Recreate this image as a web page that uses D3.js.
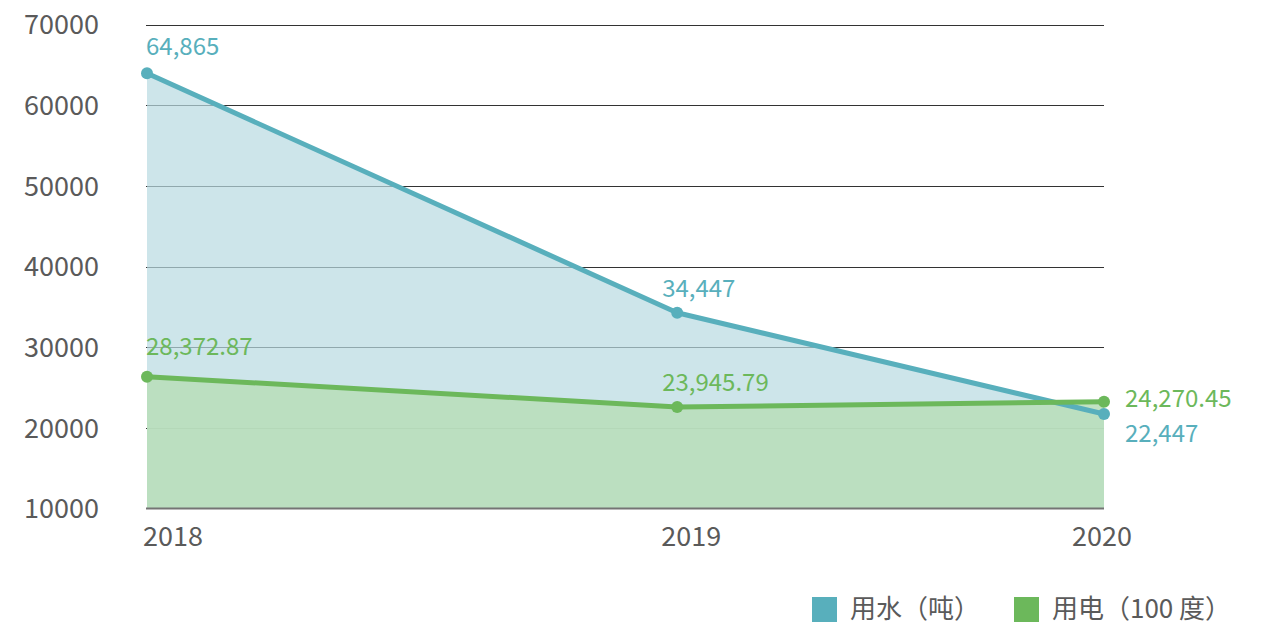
<!DOCTYPE html>
<html>
<head>
<meta charset="utf-8">
<script src="https://cdn.jsdelivr.net/npm/d3@7"></script>
<style>
  body { margin: 0; background: #fff; }
  text { font-family: "Noto Sans CJK SC", "Noto Sans", sans-serif; }
</style>
</head>
<body>
<div id="chart"></div>
<script>
// 数据
const years = [2018, 2019, 2020];
const waterValues = [63950, 34270, 21710];
const powerValues = [26340, 22580, 23240];
const waterLabels = ["64,865", "34,447", "22,447"];
const powerLabels = ["28,372.87", "23,945.79", "24,270.45"];
const yTicks = [10000, 20000, 30000, 40000, 50000, 60000, 70000];
const seriesNames = ["用水（吨）", "用电（100 度）"];

const width = 1264, height = 626;
const plotLeft = 147, plotRight = 1104, plotTop = 24.5, plotBottom = 508.5;

const waterColor = "#58afbc";
const powerColor = "#6cb85b";

const svg = d3.select("#chart")
    .append("svg")
    .attr("width", width)
    .attr("height", height);

// 2019 不在正中间
const x = d3.scaleLinear()
    .domain(years)
    .range([plotLeft, plotLeft + (plotRight - plotLeft) * 0.554, plotRight]);

const y = d3.scaleLinear()
    .domain([10000, 70000])
    .range([plotBottom, plotTop]);

// 网格线
svg.append("g")
    .selectAll("line")
    .data(yTicks.slice(1))
    .join("line")
    .attr("x1", plotLeft - 1)
    .attr("x2", plotRight)
    .attr("y1", d => Math.round(y(d)) + 0.5)
    .attr("y2", d => Math.round(y(d)) + 0.5)
    .attr("stroke", "#333")
    .attr("stroke-width", 1);

// y 轴文字
svg.append("g")
    .selectAll("text")
    .data(yTicks)
    .join("text")
    .attr("x", 99)
    .attr("y", d => y(d))
    .attr("dy", "0.36em")
    .attr("text-anchor", "end")
    .attr("font-size", 27)
    .attr("fill", "#5a5a5a")
    .text(d => d);

const area = vals => d3.area()
    .x((d, i) => x(years[i]))
    .y0(y(10000))
    .y1(d => y(d))(vals);

const line = vals => d3.line()
    .x((d, i) => x(years[i]))
    .y(d => y(d))(vals);

svg.append("path")
    .attr("d", area(waterValues))
    .attr("fill", "#b8dae1")
    .attr("fill-opacity", 0.7);

svg.append("path")
    .attr("d", area(powerValues))
    .attr("fill", "#b8deb9")
    .attr("fill-opacity", 0.88);

// 底线
svg.append("line")
    .attr("x1", plotLeft - 1)
    .attr("x2", plotRight)
    .attr("y1", plotBottom)
    .attr("y2", plotBottom)
    .attr("stroke", "#747474")
    .attr("stroke-width", 2);

const series = [
    { vals: waterValues, labels: waterLabels, color: waterColor },
    { vals: powerValues, labels: powerLabels, color: powerColor }
];

series.forEach(s => {
    svg.append("path")
        .attr("d", line(s.vals))
        .attr("fill", "none")
        .attr("stroke", s.color)
        .attr("stroke-width", 5)
        .attr("stroke-linejoin", "round");

    svg.append("g")
        .selectAll("circle")
        .data(s.vals)
        .join("circle")
        .attr("cx", (d, i) => x(years[i]))
        .attr("cy", d => y(d))
        .attr("r", 6)
        .attr("fill", s.color);
});

// 数据标签
const labelPos = (s, i) => {
    const px = x(years[i]), py = y(s.vals[i]);
    if (i === 0) return [px - 1, py - (s === series[0] ? 18 : 22)];
    if (i === 1) return [px - 15, py - 16];
    // 2020 标签在右侧
    return s === series[0] ? [px + 21, py + 28] : [px + 21, py + 5];
};

series.forEach(s => {
    svg.append("g")
        .selectAll("text")
        .data(s.labels)
        .join("text")
        .attr("x", (d, i) => labelPos(s, i)[0])
        .attr("y", (d, i) => labelPos(s, i)[1])
        .attr("font-size", 24)
        .attr("fill", s.color)
        .text(d => d);
});

// x 轴文字
const xAnchor = ["start", "middle", "end"];
const xShift = [-4, 14, 28];
svg.append("g")
    .selectAll("text")
    .data(years)
    .join("text")
    .attr("x", (d, i) => x(d) + xShift[i])
    .attr("y", 546)
    .attr("text-anchor", (d, i) => xAnchor[i])
    .attr("font-size", 27)
    .attr("fill", "#5a5a5a")
    .text(d => d);

// 图例
const legendX = [812, 1014];
const legend = svg.append("g")
    .selectAll("g")
    .data(seriesNames)
    .join("g")
    .attr("transform", (d, i) => `translate(${legendX[i]},597)`);

legend.append("rect")
    .attr("width", 25)
    .attr("height", 25)
    .attr("fill", (d, i) => i === 0 ? waterColor : powerColor);

legend.append("text")
    .attr("x", 38)
    .attr("y", 21)
    .attr("font-size", 26)
    .attr("fill", "#5a5a5a")
    .text(d => d);
</script>
</body>
</html>
